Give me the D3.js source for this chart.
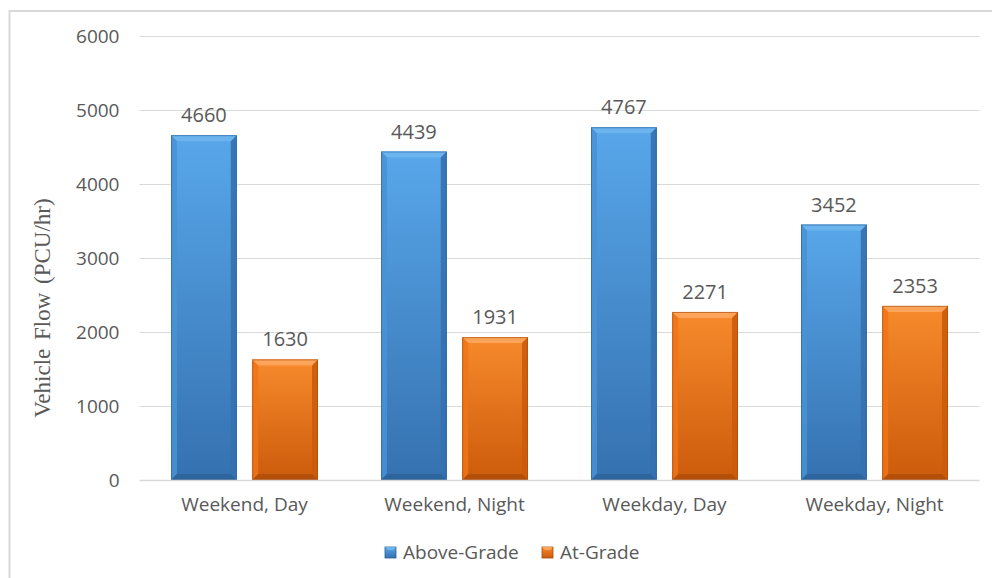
<!DOCTYPE html>
<html>
<head>
<meta charset="utf-8">
<script src="https://cdn.jsdelivr.net/npm/d3@7/dist/d3.min.js"></script>
<style>
  html, body { margin: 0; padding: 0; background: #fff; }
  svg { display: block; }
  text { font-family: "Open Sans", "Noto Sans", sans-serif; fill: #595959; }
</style>
</head>
<body>
<svg id="chart" width="992" height="578"></svg>
<script>
// Traffic volume per period, by intersection type
const categories = ["Weekend, Day", "Weekend, Night", "Weekday, Day", "Weekday, Night"];
const seriesNames = ["Above-Grade", "At-Grade"];
const aboveGrade = [4660, 4439, 4767, 3452];
const atGrade = [1630, 1931, 2271, 2353];
const yTicks = [0, 1000, 2000, 3000, 4000, 5000, 6000];

const seriesValues = [aboveGrade, atGrade];
const palette = {
  "Above-Grade": { top: "#6cb4ee", light: "#58a7ea", mid: "#4892d6", dark: "#3571b0", edge: "#2c5f94" },
  "At-Grade":    { top: "#fba45a", light: "#f78a2c", mid: "#ee7518", dark: "#cc5b0b", edge: "#a94a08" }
};

const svg = d3.select("#chart");
const plotLeft = 139.5, plotRight = 979.5, plotTop = 36, plotBottom = 480;

// Outer frame (only top and left edges fall inside the view)
svg.append("rect")
  .attr("x", 9.5).attr("y", 11)
  .attr("width", 1000).attr("height", 600)
  .attr("fill", "none").attr("stroke", "#d9d9d9").attr("stroke-width", 2);

const x0 = d3.scaleBand().domain(categories).range([plotLeft, plotRight])
  .paddingInner(0.3).paddingOuter(0.15);
const x1 = d3.scaleBand().domain(seriesNames).range([0, x0.bandwidth()])
  .paddingInner(0.19).paddingOuter(0);
const y = d3.scaleLinear().domain([0, 6000]).range([plotBottom, plotTop]);

// Gradients
const defs = svg.append("defs");
seriesNames.forEach((s, i) => {
  const c = palette[s];
  const g = defs.append("linearGradient").attr("id", "fill" + i)
    .attr("x1", 0).attr("y1", 0).attr("x2", 0).attr("y2", 1);
  g.append("stop").attr("offset", "0%").attr("stop-color", c.light);
  g.append("stop").attr("offset", "100%").attr("stop-color", c.dark);
});

// Gridlines and value ticks
const yAxis = d3.axisLeft(y).tickValues(yTicks).tickSize(-(plotRight - plotLeft)).tickPadding(20)
  .tickFormat(d3.format("d"));
const gy = svg.append("g").attr("transform", `translate(${plotLeft},0)`).call(yAxis);
gy.select(".domain").remove();
gy.selectAll(".tick line").attr("stroke", "#d9d9d9").attr("stroke-width", 1);
gy.selectAll(".tick text").attr("font-size", 19).attr("fill", "#595959")
  .attr("font-family", "'Open Sans', sans-serif");
gy.selectAll(".tick").filter(d => d === 0).select("line").remove();

// Bars with a bevelled look
const bev = 6;
const groups = svg.append("g").selectAll("g").data(categories).join("g")
  .attr("transform", d => `translate(${x0(d)},0)`);

seriesNames.forEach((s, si) => {
  const c = palette[s];
  groups.each(function(cat, ci) {
    const v = seriesValues[si][ci];
    const bx = x1(s), bw = x1.bandwidth();
    const by = y(v), bh = y(0) - y(v);
    const g = d3.select(this).append("g");
    g.append("rect").attr("x", bx).attr("y", by).attr("width", bw).attr("height", bh)
      .attr("fill", `url(#fill${si})`);
    // top bevel
    g.append("path").attr("d", `M${bx},${by}H${bx + bw}L${bx + bw - bev},${by + bev}H${bx + bev}Z`)
      .attr("fill", c.top);
    // left bevel
    g.append("path").attr("d", `M${bx},${by}L${bx + bev},${by + bev}V${by + bh - bev}L${bx},${by + bh}Z`)
      .attr("fill", c.mid).attr("opacity", 0.85);
    // right bevel
    g.append("path").attr("d", `M${bx + bw},${by}L${bx + bw - bev},${by + bev}V${by + bh - bev}L${bx + bw},${by + bh}Z`)
      .attr("fill", c.dark).attr("opacity", 0.9);
    // bottom bevel
    g.append("path").attr("d", `M${bx},${by + bh}L${bx + bev},${by + bh - bev}H${bx + bw - bev}L${bx + bw},${by + bh}Z`)
      .attr("fill", c.edge).attr("opacity", 0.7);
    g.append("rect").attr("x", bx + 0.5).attr("y", by + 0.5).attr("width", bw - 1).attr("height", bh - 1)
      .attr("fill", "none").attr("stroke", c.edge).attr("stroke-width", 1).attr("opacity", 0.6);
    // value label
    g.append("text").attr("x", bx + bw / 2).attr("y", by - 13)
      .attr("text-anchor", "middle").attr("font-size", 20).text(v);
  });
});

// Category axis
const xAxis = d3.axisBottom(x0).tickSize(0).tickPadding(18);
const gx = svg.append("g").attr("transform", `translate(0,${plotBottom})`).call(xAxis);
gx.select(".domain").attr("stroke", "#d9d9d9").attr("stroke-width", 1.5)
  .attr("d", `M${plotLeft},0.5H${plotRight}`);
gx.selectAll(".tick text").attr("font-size", 19).attr("fill", "#595959")
  .attr("font-family", "'Open Sans', sans-serif");

// Y-axis title
svg.append("text")
  .attr("transform", "translate(50,308) rotate(-90)")
  .attr("text-anchor", "middle")
  .style("font-family", "'Liberation Serif', 'DejaVu Serif', serif")
  .attr("font-size", 23)
  .attr("fill", "#595959")
  .attr("word-spacing", 3)
  .text("Vehicle Flow (PCU/hr)");

// Legend
const legendItems = [{ name: "Above-Grade", x: 385 }, { name: "At-Grade", x: 542 }];
const legend = svg.append("g").selectAll("g").data(legendItems).join("g")
  .attr("transform", d => `translate(${d.x},547)`);
legend.each(function(d, i) {
  const c = palette[d.name];
  const g = d3.select(this);
  g.append("rect").attr("width", 11).attr("height", 11).attr("fill", `url(#fill${i})`)
    .attr("stroke", c.edge).attr("stroke-width", 0.8);
  g.append("path").attr("d", "M0,0H11L8,3H3Z").attr("fill", c.top);
  g.append("text").attr("x", 18).attr("y", 12).attr("font-size", 19).text(d.name);
});
</script>
</body>
</html>
